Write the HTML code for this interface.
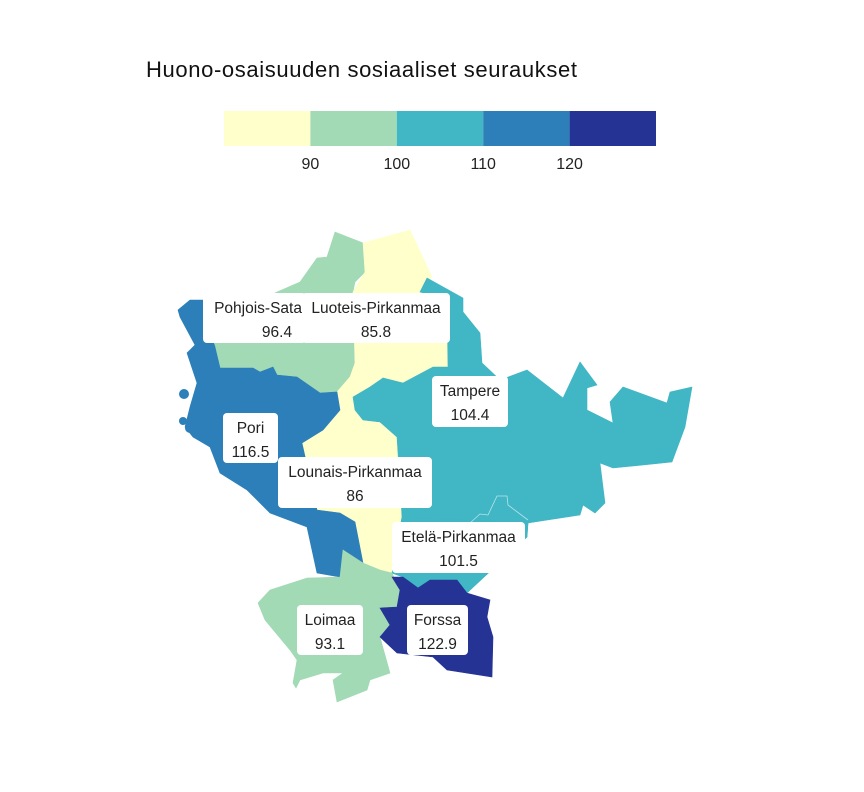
<!DOCTYPE html>
<html><head><meta charset="utf-8"><style>
body{margin:0;background:#fff;font-family:"Liberation Sans",sans-serif}
svg{display:block}
</style></head><body>
<svg id="chart" width="864" height="792" viewBox="0 0 864 792">
<text x="146" y="77" font-size="22" textLength="431" fill="#111">Huono-osaisuuden sosiaaliset seuraukset</text>
<g id="legend"></g>
<g id="regions"></g>
<g id="labels"></g>
</svg>
<script>
const regionNames=["Pohjois-Satakunta","Luoteis-Pirkanmaa","Lounais-Pirkanmaa","Pori","Tampere","Etelä-Pirkanmaa","Loimaa","Forssa"];
const regionValues=[96.4,85.8,86,116.5,104.4,101.5,93.1,122.9];
const binEdges=[80,90,100,110,120,130];
const binColors=["#ffffcc","#a1dab4","#41b6c4","#2c7fb8","#253494"];
const tickValues=[90,100,110,120];

const NS="http://www.w3.org/2000/svg";
function mk(t,a,p){const e=document.createElementNS(NS,t);for(const k in a)e.setAttribute(k,a[k]);p.appendChild(e);return e;}
function color(v){for(let i=0;i<binColors.length;i++){if(v<binEdges[i+1])return binColors[i];}return binColors[binColors.length-1];}
const lx=v=>224+(v-80)/(130-80)*432;

const lg=document.getElementById('legend');
for(let i=0;i<binColors.length;i++){
 const r=mk('rect',{x:lx(binEdges[i]),y:111,width:lx(binEdges[i+1])-lx(binEdges[i]),height:35,fill:binColors[i]},lg);
 
 
}
tickValues.forEach(t=>{
 const tx=mk('text',{x:lx(t),y:169,'font-size':16,'text-anchor':'middle',fill:'#222'},lg);
 tx.textContent=t;
 
 
});

const shapes=[
"335,232 363,243 365,272 355,282 353,292 355,363 350,377 337,392 320,393 297,377 277,375 273,367 260,372 253,368 220,368 215,347 217,320 277,292 300,282 317,258 327,257",
"363,243 410,230 432,277 420,292 447,300 448,367 433,367 418,375 403,383 383,378 370,387 353,397 337,392 350,377 355,363 353,292 365,272",
"337,392 353,397 355,410 363,420 380,422 397,437 402,517 392,573 380,570 363,563 355,522 340,513 317,510 302,443 323,430 340,410",
"178,310 190,300 203,300 215,347 220,368 253,368 260,372 273,367 277,375 297,377 320,393 337,392 340,410 323,430 302,443 317,510 340,513 355,522 363,563 343,550 340,577 317,573 307,527 270,513 247,490 220,473 210,447 193,437 185,427 190,407 197,383 187,353 195,345 180,317",
"427,278 463,298 463,312 480,333 482,363 500,380 527,370 563,398 580,362 597,385 587,388 587,410 613,423 610,402 623,387 667,403 670,392 692,387 685,427 672,462 613,468 600,463 605,503 595,513 583,505 580,515 528,523 527,537 470,590 467,593 457,580 430,580 418,588 403,577 392,573 402,517 397,437 380,422 363,420 355,410 353,397 370,387 383,378 403,383 418,375 433,367 448,367 447,300 420,292",
"402,517 528,523 527,537 470,590 467,593 457,580 430,580 418,588 403,577 392,573",
"343,550 363,563 380,570 392,573 400,590 397,607 380,608 390,625 380,637 390,673 370,680 367,690 337,702 333,680 343,673 323,673 300,680 296,688 293,683 297,660 290,650 265,620 258,603 270,590 307,578 340,577",
"392,577 403,577 418,588 430,580 457,580 467,593 490,600 487,617 493,637 492,677 447,670 433,657 397,653 380,637 390,625 380,608 397,607 400,590"
];
const rg=document.getElementById('regions');
shapes.forEach((pts,i)=>{
 const p=mk('polygon',{points:pts,fill:color(regionValues[i]),stroke:color(regionValues[i]),'stroke-width':0.6},rg);
 
 
});
[[184,394,5],[190,428,5],[183,421,4]].forEach(c=>{const e=mk('circle',{cx:c[0],cy:c[1],r:c[2],fill:color(regionValues[3])},rg);
 
 });
mk('polyline',{points:"470,523 480,514 488,515 497,496 507,496 508,505 528,520",fill:'none',stroke:'#b8e4ea','stroke-width':0.8},rg);

const boxes=[[203,293,99,50],[302,293,148,50],[278,457,154,51],[223,413,55,50],[432,376,76,51],[392,522,133,51],[297,605,66,50],[407,605,61,50]];
const lbl=document.getElementById('labels');
boxes.forEach((b,i)=>{
 const g=mk('g',{},lbl);
 
 
 const cp=mk('clipPath',{id:'c'+i},g);mk('rect',{x:b[0],y:b[1],width:b[2],height:b[3]},cp);
 mk('rect',{x:b[0],y:b[1],width:b[2]+(i==0?4:0),height:b[3],rx:4,fill:'#fff'},g);
 const cx=i==0?277:b[0]+b[2]/2;
 const t1=mk('text',{x:cx,y:b[1]+20,'font-size':15.5,'text-anchor':'middle',fill:'#222','clip-path':'url(#c'+i+')'},g);
 t1.textContent=regionNames[i];
 const t2=mk('text',{x:cx,y:b[1]+44,'font-size':15.5,'text-anchor':'middle',fill:'#222'},g);
 t2.textContent=regionValues[i];
});
</script>
</body></html>
